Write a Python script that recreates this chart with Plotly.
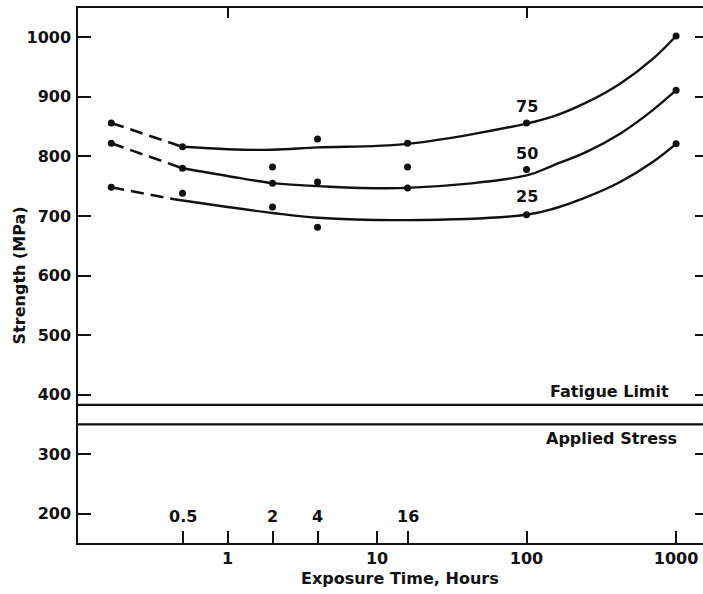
import math
import plotly.graph_objects as go

# ---- data ----
times = [0.167, 0.5, 2, 4, 16, 100, 1000]
pts_high = [856, 816, 782, 829, 822, 856, 1002]
pts_mid = [822, 780, 755, 757, 782, 778, 911]
pts_low = [748, 738, 715, 681, 747, 702, 821]

# fitted percentile curves (dashed extrapolation + solid fit)
dash75_x = [0.167, 0.5]
dash75_y = [856, 816]
fit75_x = [0.5, 1, 2, 4, 16, 100, 151, 254, 422, 702, 1000]
fit75_y = [816, 812, 811, 815, 821, 855, 867, 891, 922, 964, 1002]

dash50_x = [0.167, 0.5]
dash50_y = [822, 780]
fit50_x = [0.5, 1, 2, 4, 16, 100, 151, 254, 422, 702, 1000]
fit50_y = [780, 767, 755, 750, 747, 768, 785, 808, 838, 878, 911]

dash25_x = [0.167, 0.44]
dash25_y = [748, 728]
fit25_x = [0.44, 1, 2, 4, 16, 100, 151, 254, 422, 702, 1000]
fit25_y = [728, 715, 705, 697, 693, 702, 712, 732, 757, 791, 821]

curve_labels = ["75", "50", "25"]
curve_label_x = [100, 100, 100]
curve_label_y = [883, 805, 732]

fatigue_limit = 383
applied_stress = 350
line_labels = ["Fatigue Limit", "Applied Stress"]
line_label_x = [360, 370]
line_label_y = [405, 327]

exposure_labels = ["0.5", "2", "4", "16"]
exposure_label_x = [0.5, 2, 4, 16]
exposure_label_y = 195

x_tickvals = [0.5, 1, 2, 4, 10, 16, 100, 1000]
x_ticktext = ["", "1", "", "", "10", "", "100", "1000"]
y_tickvals = [200, 300, 400, 500, 600, 700, 800, 900, 1000]
x_top_ticks = [1, 100]

XRANGE = [-1, 3.18]
YRANGE = [151, 1049]
INK = "#111111"
FONT = dict(family="DejaVu Sans", size=16, color=INK, weight="bold")

fig = go.Figure()

for dx, dy, fx, fy in [(dash75_x, dash75_y, fit75_x, fit75_y),
                       (dash50_x, dash50_y, fit50_x, fit50_y),
                       (dash25_x, dash25_y, fit25_x, fit25_y)]:
    fig.add_trace(go.Scatter(x=dx, y=dy, mode="lines",
                             line=dict(color=INK, width=2.6, dash="13px,7px"),
                             showlegend=False, hoverinfo="skip"))
    fig.add_trace(go.Scatter(x=fx, y=fy, mode="lines",
                             line=dict(color=INK, width=2.4, shape="spline", smoothing=1.0),
                             showlegend=False, hoverinfo="skip"))

for pts in (pts_high, pts_mid, pts_low):
    fig.add_trace(go.Scatter(x=times, y=pts, mode="markers",
                             marker=dict(color=INK, size=7),
                             showlegend=False))

# horizontal reference lines
for val in (fatigue_limit, applied_stress):
    fig.add_trace(go.Scatter(x=[10 ** XRANGE[0], 10 ** XRANGE[1]], y=[val, val],
                             mode="lines", line=dict(color=INK, width=2.2),
                             showlegend=False, hoverinfo="skip"))

# invisible trace for mirror axes
fig.add_trace(go.Scatter(x=[1], y=[500], xaxis="x2", yaxis="y2", mode="markers",
                         marker=dict(opacity=0), showlegend=False, hoverinfo="skip"))

annotations = []
for t, x, y in zip(curve_labels, curve_label_x, curve_label_y):
    annotations.append(dict(x=math.log10(x), y=y, xref="x", yref="y", text=t,
                            showarrow=False, font=FONT, xanchor="center", yanchor="middle"))
for t, x in zip(exposure_labels, exposure_label_x):
    annotations.append(dict(x=math.log10(x), y=exposure_label_y, xref="x", yref="y",
                            text=t, showarrow=False, font=FONT,
                            xanchor="center", yanchor="middle"))
for t, x, y in zip(line_labels, line_label_x, line_label_y):
    annotations.append(dict(x=math.log10(x), y=y, xref="x", yref="y", text=t,
                            showarrow=False, font=FONT, xanchor="center", yanchor="middle"))
annotations.append(dict(x=0.515, y=-0.066, xref="paper", yref="paper",
                        text="Exposure Time, Hours", showarrow=False, font=FONT,
                        xanchor="center", yanchor="middle"))
annotations.append(dict(x=-0.093, y=0.5, xref="paper", yref="paper",
                        text="Strength (MPa)", showarrow=False, font=FONT,
                        textangle=-90, xanchor="center", yanchor="middle"))

fig.update_layout(
    width=703, height=594,
    margin=dict(l=78, r=0, t=8, b=51),
    paper_bgcolor="white", plot_bgcolor="white",
    font=FONT,
    showlegend=False,
    annotations=annotations,
    xaxis=dict(type="log", range=XRANGE, tickvals=x_tickvals, ticktext=x_ticktext,
               ticks="inside", ticklen=12, tickwidth=1.5, tickcolor=INK,
               showline=True, linewidth=2, linecolor=INK,
               showgrid=False, zeroline=False, tickfont=FONT, ticklabelstandoff=0),
    yaxis=dict(range=YRANGE, tickvals=y_tickvals,
               ticks="inside", ticklen=13, tickwidth=2, tickcolor=INK,
               showline=True, linewidth=1.5, linecolor=INK,
               showgrid=False, zeroline=False, tickfont=FONT, ticklabelstandoff=2),
    xaxis2=dict(type="log", range=XRANGE, overlaying="x", side="top",
                tickvals=x_top_ticks, ticks="inside", ticklen=10, tickwidth=1.5,
                tickcolor=INK, showline=True, linewidth=2, linecolor=INK,
                showticklabels=False, showgrid=False, zeroline=False),
    yaxis2=dict(range=YRANGE, overlaying="y", side="right", tickvals=y_tickvals,
                ticks="inside", ticklen=8, tickwidth=2, tickcolor=INK,
                showline=False, showticklabels=False, showgrid=False, zeroline=False),
)

fig.write_html("out.html")
